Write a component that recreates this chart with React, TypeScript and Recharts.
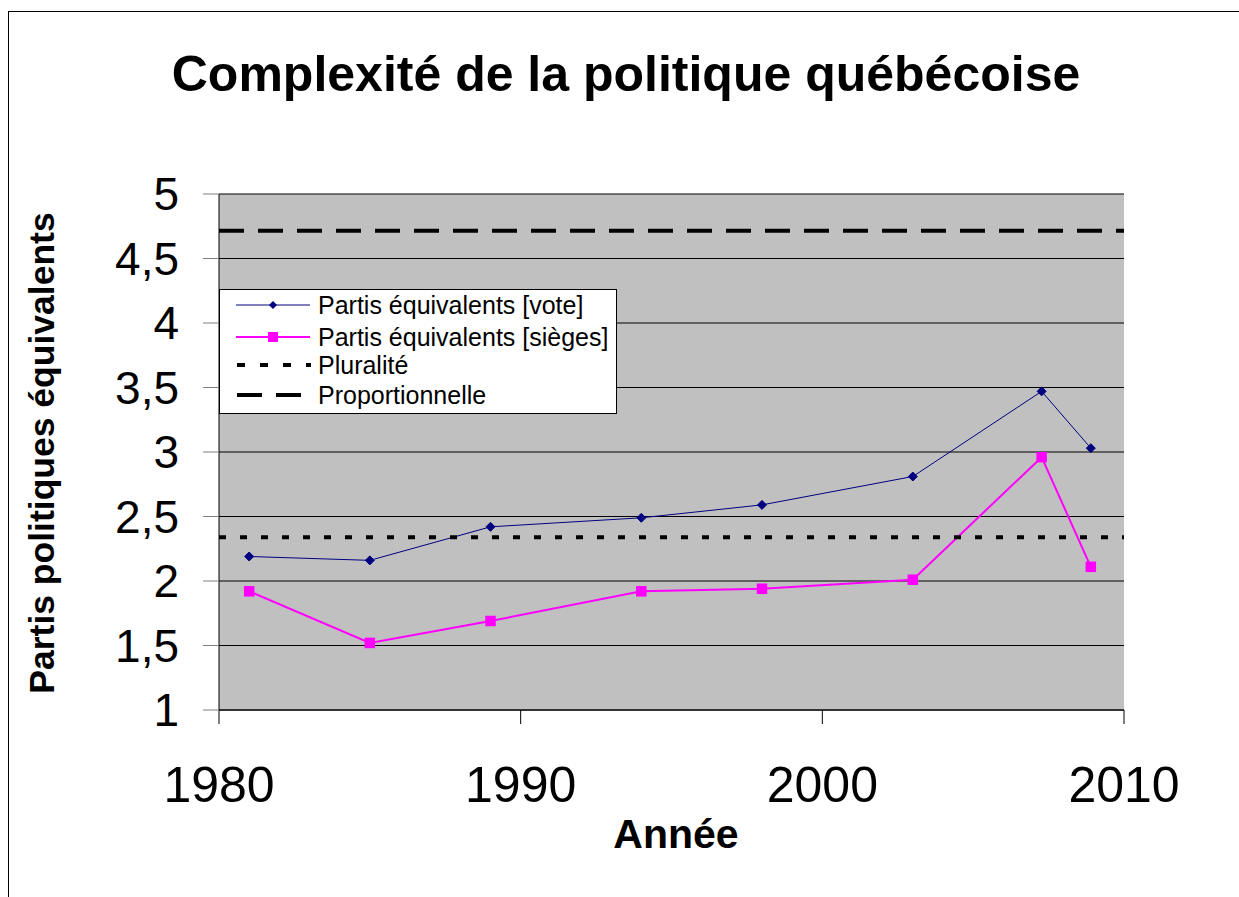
import React from 'react';
import { LineChart, Line, XAxis, YAxis, CartesianGrid, Legend } from 'recharts';

const electionYears = [1981, 1985, 1989, 1994, 1998, 2003, 2007.27, 2008.9];
const voteValues = [2.19, 2.16, 2.42, 2.49, 2.59, 2.81, 3.47, 3.03];
const seatValues = [1.92, 1.52, 1.69, 1.92, 1.94, 2.01, 2.96, 2.11];
const pluralityValue = 2.34;
const proportionalValue = 4.715;
const xDomain = [1980, 2010];
const xTicks = [1980, 1990, 2000, 2010];
const yTicks = [1, 1.5, 2, 2.5, 3, 3.5, 4, 4.5, 5];
const seriesNames = [
  'Partis équivalents [vote]',
  'Partis équivalents [sièges]',
  'Pluralité',
  'Proportionnelle',
];
const chartTitle = 'Complexité de la politique québécoise';
const xTitle = 'Année';
const yTitle = 'Partis politiques équivalents';

const tableData = electionYears.map((year, i) => ({
  year,
  vote: voteValues[i],
  seats: seatValues[i],
}));
const pluralityData = xDomain.map((year) => ({ year, value: pluralityValue }));
const proportionalData = xDomain.map((year) => ({ year, value: proportionalValue }));

const FONT = '"Liberation Sans", Arial, Helvetica, sans-serif';

const DiamondDot = (props: any) => {
  const { cx, cy, index } = props;
  if (cx == null || cy == null) return <g key={`d-${index}`} />;
  const r = 4.5;
  return (
    <path
      key={`d-${index}`}
      d={`M${cx},${cy - r}L${cx + r},${cy}L${cx},${cy + r}L${cx - r},${cy}Z`}
      fill="#000080"
      stroke="#000080"
      strokeWidth={1}
    />
  );
};

const SquareDot = (props: any) => {
  const { cx, cy, index } = props;
  if (cx == null || cy == null) return <g key={`s-${index}`} />;
  const s = 10.5;
  return <rect key={`s-${index}`} x={cx - s / 2} y={cy - s / 2} width={s} height={s} fill="#FF00FF" />;
};

const LegendContent = () => {
  const rows = [16, 48, 76, 106];
  return (
    <svg width={398} height={125} style={{ display: 'block' }}>
      <rect x={0.5} y={0.5} width={397} height={124} fill="#FFFFFF" stroke="#000000" strokeWidth={1} />
      <line x1={17} x2={91} y1={rows[0]} y2={rows[0]} stroke="#000080" strokeWidth={1} />
      <path d={`M54,${rows[0] - 4}L58,${rows[0]}L54,${rows[0] + 4}L50,${rows[0]}Z`} fill="#000080" />
      <line x1={17} x2={91} y1={rows[1]} y2={rows[1]} stroke="#FF00FF" strokeWidth={2} />
      <rect x={49} y={rows[1] - 5} width={10} height={10} fill="#FF00FF" />
      <line x1={18} x2={92} y1={rows[2]} y2={rows[2]} stroke="#000000" strokeWidth={4} strokeDasharray="8 15" />
      <line x1={18} x2={92} y1={rows[3]} y2={rows[3]} stroke="#000000" strokeWidth={4} strokeDasharray="25 14" />
      {seriesNames.map((name, i) => (
        <text key={name} x={99} y={rows[i]} dy="0.35em" fontFamily={FONT} fontSize={25} fill="#000000">
          {name}
        </text>
      ))}
    </svg>
  );
};

const fmt = (v: number) => String(v).replace('.', ',');

export default function App() {
  return (
    <div style={{ position: 'absolute', left: 0, top: 0, width: 1239, height: 897, background: '#FFFFFF' }}>
      <svg width={1239} height={897} style={{ position: 'absolute', left: 0, top: 0 }}>
        <line x1={8.5} y1={11} x2={8.5} y2={897} stroke="#000000" strokeWidth={1} />
        <line x1={8} y1={11.5} x2={1239} y2={11.5} stroke="#000000" strokeWidth={1} />
        <text x={626} y={91} textAnchor="middle" fontFamily={FONT} fontWeight="bold" fontSize={50} fill="#000000">
          {chartTitle}
        </text>
        <text x={676} y={848} textAnchor="middle" fontFamily={FONT} fontWeight="bold" fontSize={41} fill="#000000">
          {xTitle}
        </text>
        <text
          transform="translate(54,453) rotate(-90)"
          textAnchor="middle"
          fontFamily={FONT}
          fontWeight="bold"
          fontSize={35.5}
          fill="#000000"
        >
          {yTitle}
        </text>
      </svg>
      <div style={{ position: 'absolute', left: 0, top: 0 }}>
        <LineChart
          width={1239}
          height={897}
          data={tableData}
          margin={{ top: 194, right: 115, left: 119, bottom: 87 }}
        >
          <CartesianGrid
            horizontal={true}
            vertical={false}
            stroke="#000000"
            strokeWidth={1}
            fill="#C0C0C0"
            fillOpacity={1}
          />
          <XAxis
            dataKey="year"
            type="number"
            domain={xDomain}
            ticks={xTicks}
            allowDataOverflow={true}
            height={100}
            tickSize={14}
            tickMargin={42}
            axisLine={{ stroke: '#333333', strokeWidth: 2 }}
            tickLine={{ stroke: '#000000', strokeWidth: 1 }}
            tick={{ fontFamily: FONT, fontSize: 50, fill: '#000000' }}
          />
          <XAxis
            xAxisId="top"
            orientation="top"
            dataKey="year"
            type="number"
            domain={xDomain}
            height={0}
            tick={false}
            tickLine={false}
            axisLine={{ stroke: '#808080', strokeWidth: 2 }}
          />
          <YAxis
            type="number"
            domain={[1, 5]}
            ticks={yTicks}
            width={100}
            tickSize={16}
            tickMargin={24}
            tickFormatter={fmt}
            axisLine={{ stroke: '#000000', strokeWidth: 1 }}
            tickLine={{ stroke: '#808080', strokeWidth: 1 }}
            tick={{ fontFamily: FONT, fontSize: 46, fill: '#000000' }}
          />
          <YAxis
            yAxisId="right"
            orientation="right"
            type="number"
            domain={[1, 5]}
            width={0}
            tick={false}
            tickLine={false}
            axisLine={{ stroke: '#808080', strokeWidth: 2 }}
          />
          <Legend
            layout="vertical"
            align="center"
            verticalAlign="middle"
            content={<LegendContent />}
            wrapperStyle={{ position: 'absolute', left: 219, top: 289, width: 398, height: 125 }}
          />
          <Line
            name={seriesNames[0]}
            dataKey="vote"
            stroke="#000080"
            strokeWidth={1}
            dot={<DiamondDot />}
            activeDot={false}
            isAnimationActive={false}
          />
          <Line
            name={seriesNames[1]}
            dataKey="seats"
            stroke="#FF00FF"
            strokeWidth={2}
            dot={<SquareDot />}
            activeDot={false}
            isAnimationActive={false}
          />
          <Line
            name={seriesNames[2]}
            data={pluralityData}
            dataKey="value"
            stroke="#000000"
            strokeWidth={4}
            strokeDasharray="7 14"
            dot={false}
            activeDot={false}
            isAnimationActive={false}
          />
          <Line
            name={seriesNames[3]}
            data={proportionalData}
            dataKey="value"
            stroke="#000000"
            strokeWidth={4}
            strokeDasharray="25 14"
            dot={false}
            activeDot={false}
            isAnimationActive={false}
          />
        </LineChart>
      </div>
    </div>
  );
}
